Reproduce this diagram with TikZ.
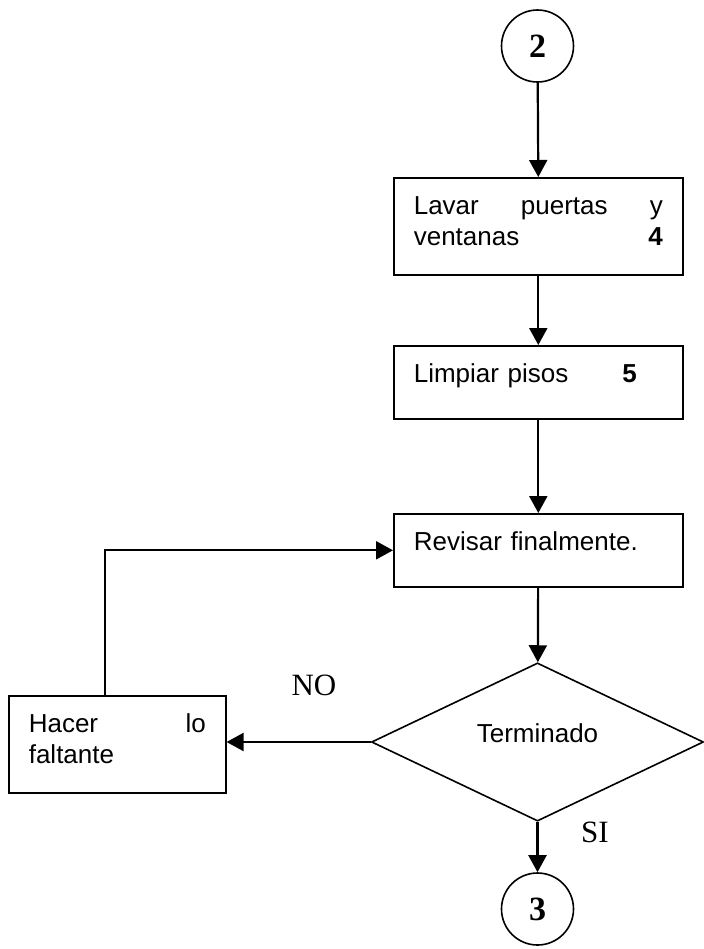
\documentclass[tikz,border=0pt]{standalone}
\usepackage{fontspec}
\setmainfont{Liberation Serif}
\setsansfont{Liberation Sans}
\usetikzlibrary{shapes.geometric,arrows.meta}
\newcommand{\llenar}{\hskip 0pt plus 1filll\relax}
\begin{document}
\begin{tikzpicture}[x=0.5pt, y=-0.5pt,
    caja/.style={draw, line width=0.8pt, rectangle, anchor=north west, align=left, inner xsep=10pt, inner ysep=0pt, text height=18.5pt, font=\sffamily\fontsize{13}{15.5}\selectfont},
    circulo/.style={draw, circle, line width=0.8pt, minimum size=36pt, inner sep=0pt, font=\bfseries\fontsize{17}{20}\selectfont},
    flecha/.style={line width=1.1pt, -{Triangle[length=8.5pt, width=9pt]}},
    etiqueta/.style={font=\fontsize{15.5}{18}\selectfont}]
    \useasboundingbox (0,0) rectangle (703,949);

    \node[circulo] (c2) at (537.5,46) {2};
    \node[caja, text width=124.5pt, text depth=30pt] (lavar) at (393,177) {Lavar \llenar puertas \llenar y\\ventanas \llenar \textbf{4}};
    \node[caja, text width=124.5pt, text depth=18pt] (limpiar) at (393,345) {Limpiar pisos\hspace{27pt}\textbf{5}};
    \node[caja, text width=124.5pt, text depth=18pt] (revisar) at (393,513) {Revisar finalmente.};
    \node[draw, diamond, line width=0.8pt, minimum width=166pt, minimum height=60pt, inner sep=0pt, text depth=9pt, font=\sffamily\fontsize{13}{15.5}\selectfont] (term) at (537.5,742) {Terminado};
    \node[caja, text width=88.5pt, text depth=30pt] (hacer) at (8,695) {Hacer \llenar lo\\faltante};
    \node[circulo] (c3) at (537.5,909) {3};
    \node[etiqueta] (no) at (314,685) {NO};
    \node[etiqueta] (si) at (595,832) {SI};

    \draw[flecha] (c2) -- (lavar.north);
    \draw[flecha] (lavar) -- (limpiar);
    \draw[flecha] (limpiar) -- (revisar);
    \draw[flecha] (revisar) -- (term);
    \draw[flecha] (term) -- (c3);
    \draw[flecha] (term.west) -- (term.west -| hacer.east);
    \draw[flecha] ([xshift=48.5pt]hacer.north west) |- (revisar.west);
\end{tikzpicture}
\end{document}
